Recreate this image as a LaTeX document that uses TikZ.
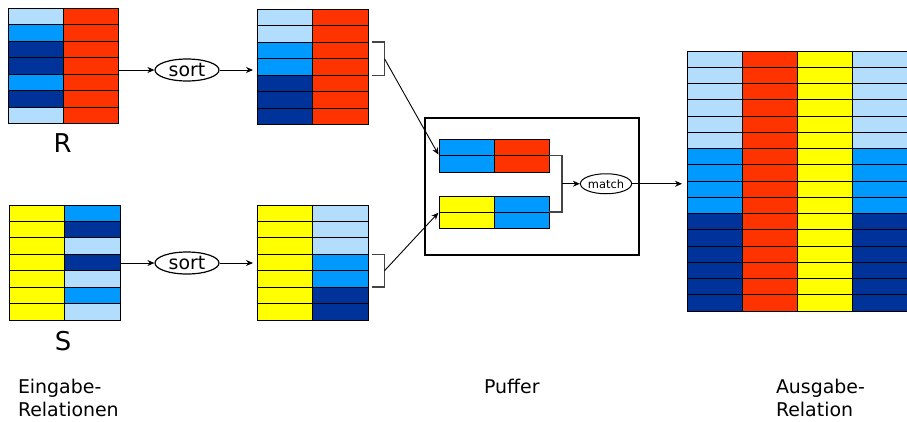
\documentclass[tikz,border=0pt]{standalone}
\usepackage{fontspec}
\setmainfont{DejaVu Sans}
\usetikzlibrary{arrows.meta,shapes.geometric}
\definecolor{lb}{HTML}{B3DDFD}
\definecolor{mb}{HTML}{0099FF}
\definecolor{db}{HTML}{003399}
\definecolor{rd}{HTML}{FF3300}
\definecolor{yl}{HTML}{FFFF00}
\definecolor{ln}{HTML}{444444}
\newcommand\mktable[6]{%
  \foreach \a/\b [count=\i] in {#6} {
    \node[cell,fill=\a,minimum width=#4bp,minimum height=#5bp] (#1-\i-1) at (#2,{#3+(\i-1)*#5}) {};
    \node[cell,fill=\b,minimum width=#4bp,minimum height=#5bp] (#1-\i-2) at ({#2+#4},{#3+(\i-1)*#5}) {};
  }}
\begin{document}
\begin{tikzpicture}[x=1bp,y=-1bp,
  cell/.style={draw=black,line width=1bp,inner sep=0pt,outer sep=0pt,anchor=north west},
  arr/.style={-{Stealth[length=7bp,width=6bp]},line width=0.9bp},
  oval/.style={ellipse,draw,line width=1.2bp,inner sep=0pt},
  bracket/.style={draw=ln,line width=1.4bp},
  lbl/.style={inner sep=0pt,outer sep=0pt,anchor=north west,align=left,font=\fontsize{19}{23.5}\selectfont}]
\useasboundingbox (0,0) rectangle (907,421);
% input relations
\mktable{R}{8}{8}{55}{16.57}{lb/rd,mb/rd,db/rd,db/rd,mb/rd,db/rd,lb/rd}
\mktable{S}{9}{205}{55.5}{16.43}{yl/mb,yl/db,yl/lb,yl/db,yl/lb,yl/mb,yl/lb}
\node[inner sep=0pt,font=\fontsize{26}{30}\selectfont] (Rl) at (62.5,143) {R};
\node[inner sep=0pt,font=\fontsize{26}{30}\selectfont] (Sl) at (63,341) {S};
% sorted relations
\mktable{SR}{257}{9}{55.5}{16.57}{lb/rd,lb/rd,mb/rd,mb/rd,db/rd,db/rd,db/rd}
\mktable{SS}{257}{205}{55.5}{16.43}{yl/lb,yl/lb,yl/lb,yl/mb,yl/mb,yl/db,yl/db}
% sort ovals
\node[oval,minimum width=64bp,minimum height=22bp,font=\fontsize{19}{22}\selectfont] (sortR) at (187,70) {sort};
\node[oval,minimum width=64bp,minimum height=22bp,font=\fontsize{19}{22}\selectfont] (sortS) at (187,263) {sort};
\draw[arr] (sortR -| R-1-2.east) -- (sortR);
\draw[arr,shorten >=4bp] (sortR) -- (sortR -| SR-1-1.west);
\draw[arr] (sortS -| S-1-2.east) -- (sortS);
\draw[arr,shorten >=4bp] (sortS) -- (sortS -| SS-1-1.west);
% buffer
\node[draw,line width=2bp,inner sep=0pt,anchor=north west,minimum width=214bp,minimum height=137bp] (buf) at (424,117) {};
\mktable{BR}{439}{139}{55}{16.5}{mb/rd,mb/rd}
\mktable{BS}{439}{196}{55}{16}{yl/mb,yl/mb}
% brackets
\draw[bracket] ([xshift=4bp]SR-3-2.north east) -- ([xshift=16.5bp]SR-3-2.north east) -- ([xshift=16.5bp]SR-4-2.south east) -- ([xshift=4bp]SR-4-2.south east);
\coordinate (brR) at ([xshift=16.5bp]SR-4-2.north east);
\draw[bracket] ([xshift=4bp]SS-4-2.north east) -- ([xshift=16.5bp]SS-4-2.north east) -- ([xshift=16.5bp]SS-5-2.south east) -- ([xshift=4bp]SS-5-2.south east);
\coordinate (brS) at ([xshift=16.5bp]SS-5-2.north east);
\draw[arr,shorten >=1bp] (brR) -- (BR-2-1.north west);
\draw[arr,shorten >=1bp] (brS) -- (BS-2-1.north west);
% match
\node[oval,line width=1bp,minimum width=46bp,minimum height=20bp,font=\fontsize{11.5}{13}\selectfont] (match) at (606,183.75) {match};
\draw[bracket] (BR-2-2.north east) -- ([xshift=13bp]BR-2-2.north east) coordinate (mt) |- (BS-2-2.north east);
\draw[arr] (mt |- match) -- (match);
% output relation
\foreach \a [count=\i] in {lb,lb,lb,lb,lb,lb,mb,mb,mb,mb,db,db,db,db,db,db} {
  \node[cell,fill=\a,minimum width=55.25bp,minimum height=16.25bp] (O-\i-1) at (687,{51+(\i-1)*16.25}) {};
  \node[cell,fill=rd,minimum width=55.25bp,minimum height=16.25bp] (O-\i-2) at (742.25,{51+(\i-1)*16.25}) {};
  \node[cell,fill=yl,minimum width=55.25bp,minimum height=16.25bp] (O-\i-3) at (797.5,{51+(\i-1)*16.25}) {};
  \node[cell,fill=\a,minimum width=55.25bp,minimum height=16.25bp] (O-\i-4) at (852.75,{51+(\i-1)*16.25}) {};
}
\draw[arr,shorten >=5bp] (match) -- (match -| O-1-1.west);
% labels
\node[lbl] (l1) at (18,379) {Eingabe-\\Relationen};
\node[lbl] (l2) at (484,379) {Puffer};
\node[lbl] (l3) at (776,379) {Ausgabe-\\Relation};
\end{tikzpicture}
\end{document}
